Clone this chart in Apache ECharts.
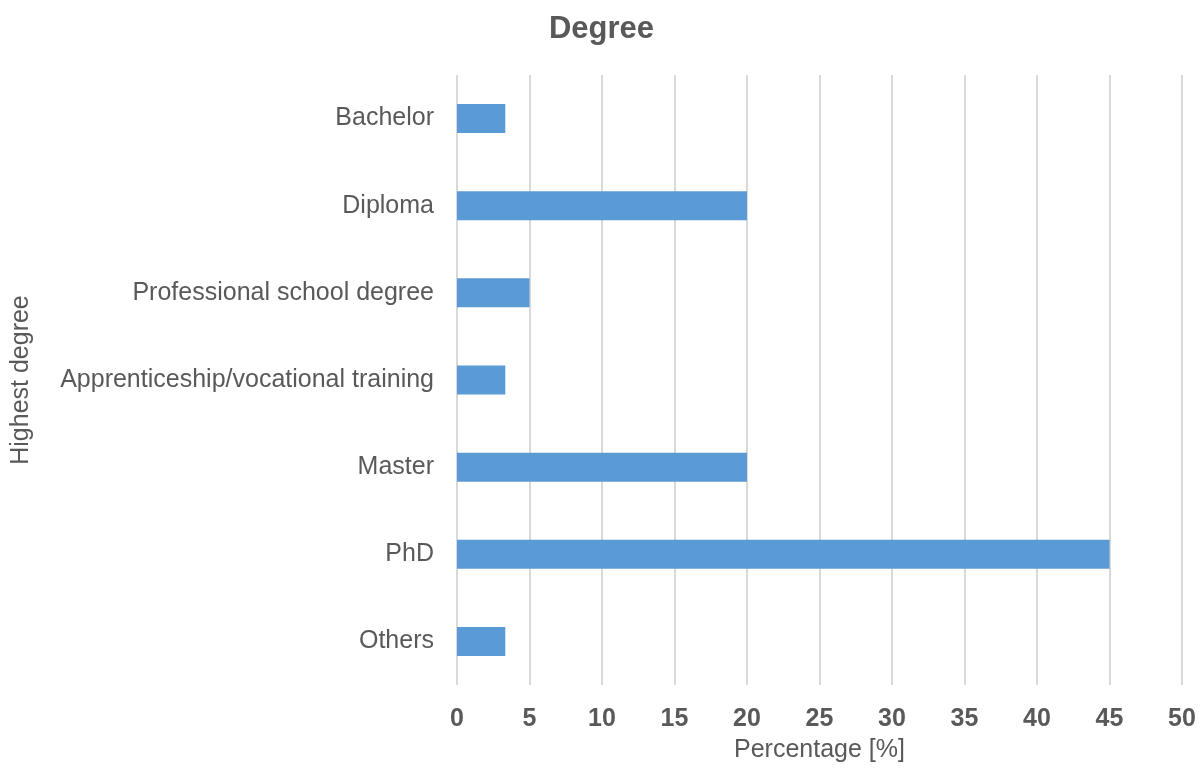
<!DOCTYPE html>
<html lang="en">
<head>
	<meta charset="UTF-8">
	<title>Degree</title>
    <script src="https://cdn.jsdelivr.net/npm/echarts@6/dist/echarts.min.js"></script>
    <style>
        html,body{margin:0;padding:0;background:#fff;}
        .main{width:1203px;height:769px;}
    </style>
</head>
<body>
    <div id="main" class="main"></div>
    <script type="text/javascript">
        // data
        var categories = ['Bachelor', 'Diploma', 'Professional school degree', 'Apprenticeship/vocational training', 'Master', 'PhD', 'Others'];
        var percentages = [3.33, 20, 5, 3.33, 20, 45, 3.33];

        var myChart = echarts.init(document.getElementById('main'));
        var txt = '#595959';
        var font = '"Liberation Sans", Arial, sans-serif';

        var option = {
            animation: false,
            textStyle: {fontFamily: font},
            title: {
                text: 'Degree',
                left: 'center',
                top: 9,
                textStyle: {fontSize: 31, fontWeight: 'bold', color: txt, fontFamily: font}
            },
            grid: {left: 457, right: 21, top: 75, bottom: 84, outerBoundsMode: 'none', containLabel: false},
            xAxis: {
                type: 'value',
                min: 0, max: 50, interval: 5,
                name: 'Percentage [%]',
                nameLocation: 'middle',
                nameGap: 53,
                nameTextStyle: {fontSize: 25, color: txt},
                axisLine: {show: false},
                axisTick: {show: false},
                axisLabel: {fontSize: 25, fontWeight: 'bold', color: txt, margin: 22},
                splitLine: {lineStyle: {color: '#d9d9d9', width: 2}}
            },
            yAxis: {
                type: 'category',
                data: categories,
                inverse: true,
                name: 'Highest degree',
                nameLocation: 'middle',
                nameGap: 423,
                nameRotate: 90,
                nameTextStyle: {fontSize: 25, color: txt},
                axisLine: {show: false},
                axisTick: {show: false},
                axisLabel: {fontSize: 25, color: txt, margin: 23}
            },
            series: [{
                type: 'bar',
                data: percentages,
                barWidth: 29,
                itemStyle: {color: '#5b9bd5'}
            }]
        };
        myChart.setOption(option);
    </script>
</body>
</html>
